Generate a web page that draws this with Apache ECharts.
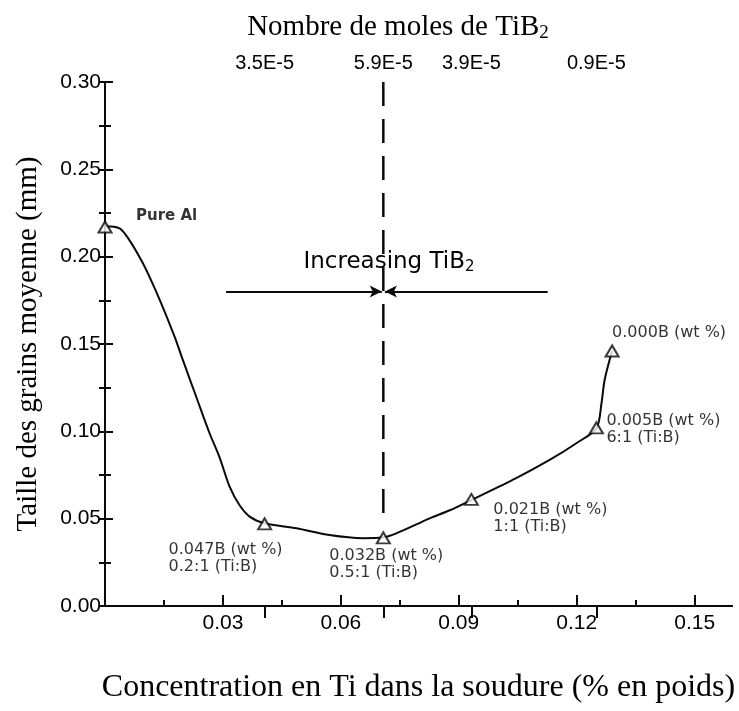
<!DOCTYPE html>
<html>
<head>
<meta charset="utf-8">
<script src="https://cdn.jsdelivr.net/npm/echarts@6/dist/echarts.min.js"></script>
<style>
  html, body { margin: 0; padding: 0; background: #fff; }
  #chart { width: 739px; height: 711px; }
</style>
</head>
<body>
<div id="chart"></div>
<script>
// Measured points: Ti concentration (wt %) vs mean grain size (mm)
const pointX = [0.0, 0.0406, 0.0708, 0.0932, 0.1250, 0.1290];
const pointY = [0.217, 0.047, 0.039, 0.061, 0.102, 0.146];
const pointLabels = [
  'Pure Al',
  '0.047B (wt %)\n0.2:1 (Ti:B)',
  '0.032B (wt %)\n0.5:1 (Ti:B)',
  '0.021B (wt %)\n1:1 (Ti:B)',
  '0.005B (wt %)\n6:1 (Ti:B)',
  '0.000B (wt %)'
];

// Hand-drawn fitting curve through the measurements
const curveX = [0.0, 0.0037, 0.0062, 0.0092, 0.0113, 0.0143, 0.0177, 0.0198, 0.0232, 0.0266,
  0.0291, 0.0317, 0.0342, 0.0368, 0.0406, 0.0487, 0.0571, 0.0656, 0.0708, 0.0741,
  0.0826, 0.0877, 0.0932, 0.1046, 0.1131, 0.1199, 0.1250, 0.1263, 0.1271, 0.1290];
const curveY = [0.2174, 0.2162, 0.2095, 0.1981, 0.1886, 0.1733, 0.1542, 0.1409, 0.1198, 0.0989,
  0.0854, 0.0683, 0.0578, 0.0512, 0.0474, 0.0445, 0.0406, 0.0388, 0.0393, 0.0416,
  0.0502, 0.0548, 0.0607, 0.0732, 0.0836, 0.0932, 0.1017, 0.1161, 0.1294, 0.1461];

// Axis ticks
const xMajorTicks = [0.03, 0.06, 0.09, 0.12, 0.15];
const xMinorTicks = [0.015, 0.045, 0.075, 0.105, 0.135];
const topTickValues = [0.0406, 0.0708, 0.0932, 0.1250];
const topTickLabels = ['3.5E-5', '5.9E-5', '3.9E-5', '0.9E-5'];

// Minimum-grain-size marker and "Increasing TiB2" arrows
const dashX = [0.0708, 0.0708];
const dashY = [0.30, 0.049];
const arrowY = 0.180;
const arrowLeftX = [0.0308, 0.0704];
const arrowRightX = [0.1126, 0.0712];

const X_MAX = 0.1595;
const INK = '#0a0a0a';
const SANS = 'Liberation Sans';
const LABEL_FONT = 'DejaVu Sans';
const SERIF = 'Liberation Serif';

const zip = (xs, ys) => xs.map((x, i) => [x, ys[i]]);

// label placement (dx, dy of the text block's top-left from the point)
const labelOffsets = [[31, -19], [-96, 17], [-54, 9], [22, 2], [10, -15], [0, -27]];

const markerData = pointX.map((x, i) => ({
  value: [x, pointY[i]],
  label: {
    show: true,
    formatter: pointLabels[i],
    position: 'inside',
    align: 'left',
    verticalAlign: 'top',
    offset: labelOffsets[i],
    fontFamily: LABEL_FONT,
    fontSize: i === 0 ? 15 : 16,
    fontWeight: i === 0 ? 'bold' : 'normal',
    lineHeight: 17,
    color: '#000'
  }
}));

const chart = echarts.init(document.getElementById('chart'), null, { renderer: 'canvas' });

chart.setOption({
  backgroundColor: '#fff',
  animation: false,
  grid: { left: 105, right: 7, top: 82, bottom: 105, containLabel: false },
  xAxis: [
    {
      type: 'value', position: 'bottom', min: 0, max: X_MAX,
      name: 'Concentration en Ti dans la soudure (% en poids)',
      nameLocation: 'middle', nameGap: 66,
      nameTextStyle: { fontFamily: SERIF, fontSize: 32, color: '#000' },
      axisLine: { show: true, lineStyle: { color: INK, width: 2 } },
      axisTick: { show: true, inside: true, length: 11, customValues: xMajorTicks, lineStyle: { color: INK, width: 2 } },
      axisLabel: {
        show: true, customValues: xMajorTicks, margin: 7,
        formatter: v => v.toFixed(2),
        fontFamily: SANS, fontSize: 21, color: '#000'
      },
      splitLine: { show: false }
    },
    {
      type: 'value', position: 'top', min: 0, max: X_MAX,
      axisLine: { show: true, lineStyle: { color: INK, width: 2 } },
      axisTick: { show: true, inside: true, length: 12, customValues: topTickValues, lineStyle: { color: INK, width: 2 } },
      axisLabel: {
        show: true, customValues: topTickValues, margin: 9,
        formatter: v => {
          let best = 0;
          topTickValues.forEach((t, i) => { if (Math.abs(t - v) < Math.abs(topTickValues[best] - v)) best = i; });
          return topTickLabels[best];
        },
        fontFamily: SANS, fontSize: 20, color: '#000'
      },
      splitLine: { show: false }
    },
    {
      type: 'value', position: 'bottom', offset: 0, min: 0, max: X_MAX,
      axisLine: { show: false },
      axisTick: { show: true, inside: true, length: 6, customValues: xMinorTicks, lineStyle: { color: INK, width: 2 } },
      axisLabel: { show: false },
      splitLine: { show: false }
    }
  ],
  yAxis: [
    {
      type: 'value', position: 'left', min: 0, max: 0.30, interval: 0.05,
      name: 'Taille des grains moyenne (mm)',
      nameLocation: 'middle', nameGap: 62,
      nameTextStyle: { fontFamily: SERIF, fontSize: 29, color: '#000' },
      axisLine: { show: true, lineStyle: { color: INK, width: 2 } },
      axisTick: { show: true, inside: true, length: 8, lineStyle: { color: INK, width: 2 } },
      minorTick: { show: true, splitNumber: 2, length: 6, lineStyle: { color: INK, width: 2 } },
      axisLabel: {
        show: true, margin: 4, formatter: v => v.toFixed(2),
        fontFamily: SANS, fontSize: 21, color: '#000'
      },
      splitLine: { show: false }
    },
    {
      type: 'value', position: 'right', min: 0, max: 0.30, interval: 0.025,
      axisLine: { show: true, lineStyle: { color: INK, width: 2 } },
      axisTick: { show: true, inside: true, length: 6, lineStyle: { color: INK, width: 2 } },
      axisLabel: { show: false },
      splitLine: { show: false }
    }
  ],
  graphic: [
    {
      type: 'text', x: 398, y: 12,
      style: {
        text: 'Nombre de moles de TiB{sub|2}',
        align: 'center', verticalAlign: 'top',
        fontFamily: SERIF, fontSize: 29, fill: '#000',
        rich: { sub: { fontFamily: SERIF, fontSize: 19, padding: [12, 0, 0, 0], fill: '#000' } }
      }
    },
    {
      type: 'text', x: 389, y: 262,
      style: {
        text: 'Increasing TiB{sub|2}',
        align: 'center', verticalAlign: 'middle',
        fontFamily: LABEL_FONT, fontSize: 23, fill: '#000',
        rich: { sub: { fontFamily: LABEL_FONT, fontSize: 15, padding: [11, 0, 0, 0], fill: '#000' } }
      }
    }
  ],
  series: [
    {
      name: 'curve', type: 'line', xAxisIndex: 0, yAxisIndex: 0,
      data: zip(curveX, curveY), smooth: 0.3, showSymbol: false, symbol: 'none',
      lineStyle: { color: INK, width: 2 }, z: 2, silent: true
    },
    {
      name: 'minimum', type: 'line', xAxisIndex: 0, yAxisIndex: 0,
      data: zip(dashX, dashY), symbol: 'none',
      lineStyle: { color: INK, width: 2.5, type: [24, 13] }, z: 2, silent: true
    },
    {
      name: 'arrows', type: 'line', xAxisIndex: 0, yAxisIndex: 0, data: [],
      markLine: {
        silent: true, symbol: ['none', 'arrow'], symbolSize: [9, 12],
        label: { show: false },
        lineStyle: { color: INK, width: 2, type: 'solid' },
        data: [
          [{ coord: [arrowLeftX[0], arrowY] }, { coord: [arrowLeftX[1], arrowY] }],
          [{ coord: [arrowRightX[0], arrowY] }, { coord: [arrowRightX[1], arrowY] }]
        ]
      }
    },
    {
      name: 'measurements', type: 'scatter', xAxisIndex: 0, yAxisIndex: 0,
      data: markerData, symbol: 'triangle', symbolSize: [13, 11],
      itemStyle: { color: '#fff', borderColor: INK, borderWidth: 2 }, z: 5, silent: true
    }
  ]
});
</script>
</body>
</html>
